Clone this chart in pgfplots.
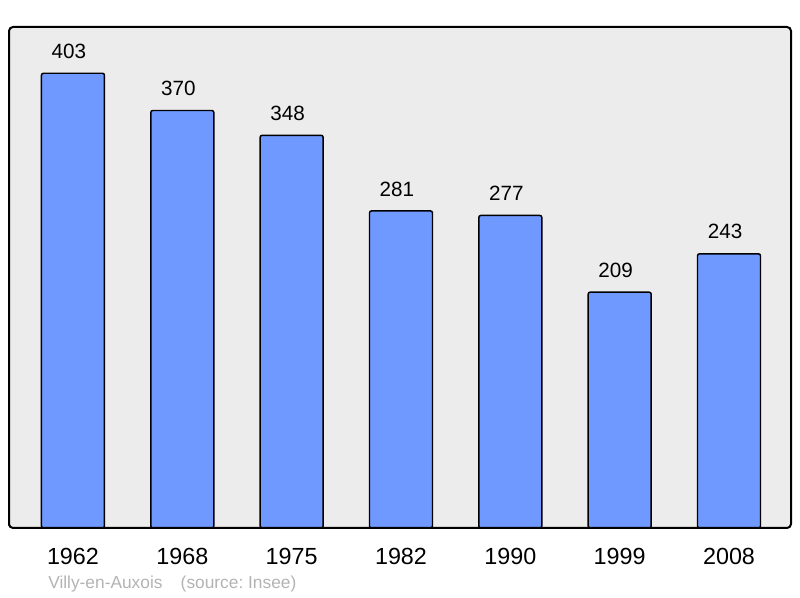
\documentclass[border=0pt]{standalone}
\usepackage{pgfplots}
\pgfplotsset{compat=1.18}
\usepackage{fontspec}
\setmainfont{Liberation Sans}
\definecolor{barblue}{HTML}{7099FF}
\definecolor{bgray}{HTML}{ECECEC}
\definecolor{srcgray}{HTML}{B3B3B3}
\begin{document}
\begin{tikzpicture}
\path[use as bounding box] (-6.75pt,-52.5pt) rectangle (593.25pt,396pt);
\begin{axis}[
  at={(0,0)}, anchor=south west,
  scale only axis,
  width=586.5pt, height=375.75pt,
  xmin=-0.585, xmax=6.567,
  ymin=0, ymax=444,
  ytick=\empty,
  xtick={0,1,2,3,4,5,6},
  xticklabels={1962,1968,1975,1982,1990,1999,2008},
  xtick style={draw=none},
  xticklabel style={font=\fontsize{17.5pt}{20pt}\selectfont, anchor=center, yshift=-21pt},
  axis background/.style={fill=bgray, rounded corners=3pt},
  axis line style={line width=1.5pt, rounded corners=3pt},
  axis on top,
  /pgf/number format/assume math mode=true,
  nodes near coords,
  every node near coord/.append style={font=\fontsize{15.5pt}{17pt}\selectfont, anchor=center, yshift=16.5pt, xshift=-3pt},
]
\addplot[ybar, bar width=47.25pt, fill=barblue, draw=black, line width=1.1pt, rounded corners=1.5pt]
coordinates {(0,403) (1,370) (2,348) (3,281) (4,277) (5,209) (6,243)};
\end{axis}
\node[anchor=west, text=srcgray, font=\fontsize{13pt}{14pt}\selectfont, inner sep=0pt] at (29.25pt,-42pt) {Villy-en-Auxois\hspace{1.05em}(source:\ Insee)};
\end{tikzpicture}
\end{document}
